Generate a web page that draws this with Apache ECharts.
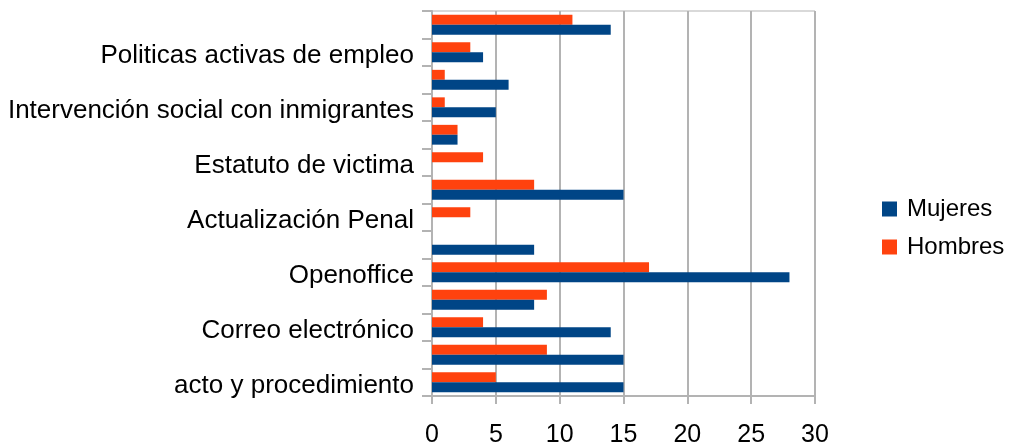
<!DOCTYPE html>
<html>
<head>
<meta charset="utf-8">
<script src="https://cdn.jsdelivr.net/npm/echarts@6/dist/echarts.min.js"></script>
<style>
  html, body { margin: 0; padding: 0; background: #fff; }
  #chart { width: 1010px; height: 448px; }
</style>
</head>
<body>
<div id="chart"></div>
<script>
// categories from bottom to top (only every other one is labelled in the picture)
const categories = [
  'acto y procedimiento', '',
  'Correo electrónico', '',
  'Openoffice', '',
  'Actualización Penal', '',
  'Estatuto de victima', '',
  'Intervención social con inmigrantes', '',
  'Politicas activas de empleo', ''
];
const mujeres = [15, 15, 14, 8, 28, 8, 0, 15, 0, 2, 5, 6, 4, 14];
const hombres = [5, 9, 4, 9, 17, 0, 3, 8, 4, 2, 1, 1, 3, 11];
const xTicks = [0, 5, 10, 15, 20, 25, 30];

const gray = '#b3b3b3';
const font = 'Liberation Sans, Arial, sans-serif';

let chart = echarts.init(document.getElementById('chart'));
chart.setOption({
  animation: false,
  textStyle: { fontFamily: font },
  grid: {
    left: 432, right: 195, top: 11, bottom: 48,
    show: true, borderColor: gray, borderWidth: 1
  },
  legend: {
    data: ['Mujeres', 'Hombres'],
    orient: 'vertical',
    left: 877, top: 192,
    itemWidth: 15, itemHeight: 15, itemGap: 14,
    icon: 'rect',
    textStyle: { fontSize: 24, color: '#000', fontFamily: font, padding: [0, 0, 0, 5] }
  },
  xAxis: {
    type: 'value',
    min: xTicks[0], max: xTicks[xTicks.length - 1], interval: 5,
    axisLine: { show: true, lineStyle: { color: gray, width: 2 } },
    axisTick: { show: true, length: 8, lineStyle: { color: gray, width: 2 } },
    splitLine: { show: true, lineStyle: { color: gray, width: 2 } },
    axisLabel: { fontSize: 25, color: '#000', margin: 27 }
  },
  yAxis: {
    type: 'category',
    data: categories,
    axisLine: { show: true, lineStyle: { color: gray, width: 2 } },
    axisTick: { show: true, length: 10, interval: 0, lineStyle: { color: gray, width: 2 } },
    axisLabel: {
      interval: 1, fontSize: 26, color: '#000', margin: 18,
      lineHeight: 34, verticalAlign: 'top', padding: [-13, 0, 0, 0]
    },
    splitLine: { show: false }
  },
  // Hombres listed first so that it sits above Mujeres inside each band
  series: [
    {
      name: 'Hombres', type: 'bar', data: hombres,
      itemStyle: { color: '#ff420e' },
      barGap: '0%', barCategoryGap: '28%'
    },
    {
      name: 'Mujeres', type: 'bar', data: mujeres,
      itemStyle: { color: '#004586' },
      barGap: '0%', barCategoryGap: '28%'
    }
  ]
});
</script>
</body>
</html>
